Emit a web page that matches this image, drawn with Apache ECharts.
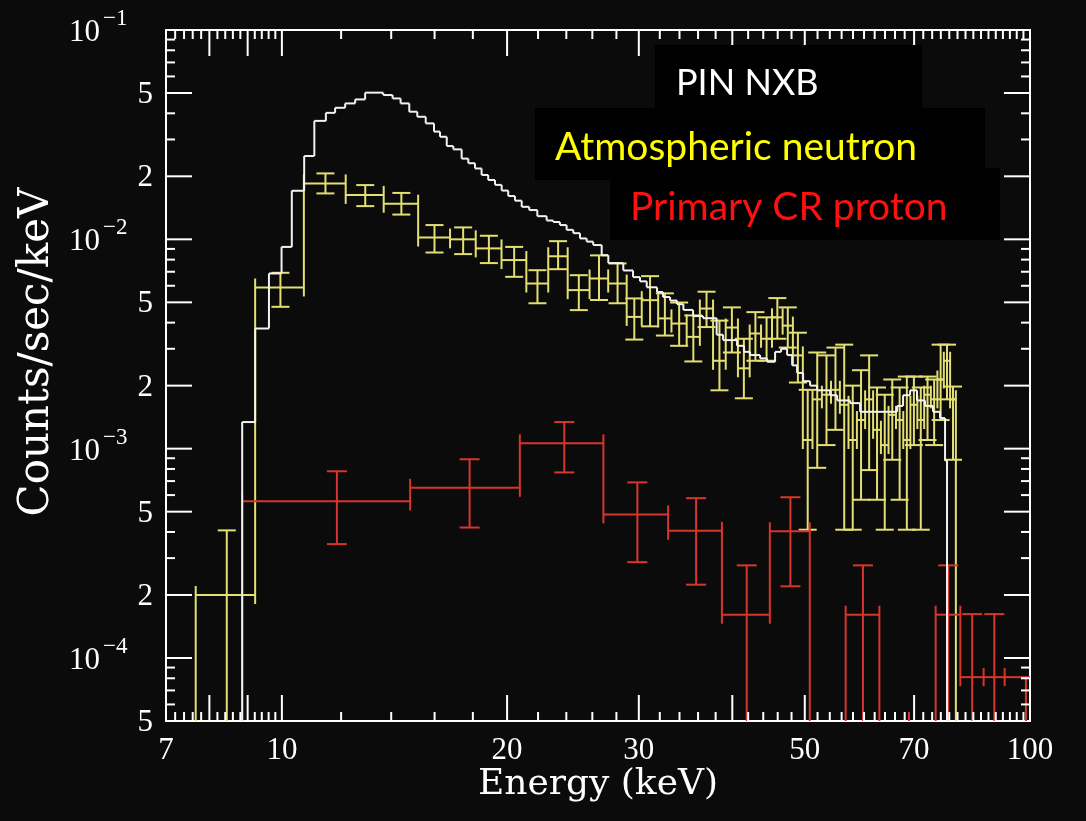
<!DOCTYPE html>
<html>
<head>
<meta charset="utf-8">
<script src="https://cdn.jsdelivr.net/npm/echarts@6.0.0/dist/echarts.min.js"></script>
<style>
html,body{margin:0;padding:0;background:#0b0b0b;}
#chart{width:1086px;height:821px;}
</style>
</head>
<body>
<div id="chart"></div>
<script>
// ---------------- tick / label data ----------------
const xLabelValues = [7, 10, 20, 30, 50, 70, 100];
const xLabels = ['7', '10', '20', '30', '50', '70', '100'];
const xMajorTicks = [8, 9, 10, 20, 30, 40, 50, 70];
const xMinorTicks = [7.2, 7.4, 7.6, 7.8, 8.2, 8.4, 8.6, 8.8, 9.2, 9.4, 9.6, 9.8,
  12, 14, 16, 18, 22, 24, 26, 28, 32, 34, 36, 38, 42, 44, 46, 48,
  52, 54, 56, 58, 60, 62, 64, 66, 68, 72, 74, 76, 78, 80, 82, 84, 86, 88, 90, 92, 94, 96, 98];
const yLabelValues = [0.1, 0.05, 0.02, 0.01, 0.005, 0.002, 0.001, 0.0005, 0.0002, 0.0001, 0.00005];
const yLabelMantissa = ['10', '5', '2', '10', '5', '2', '10', '5', '2', '10', '5'];
const yLabelExponent = ['\u22121', '', '', '\u22122', '', '', '\u22123', '', '', '\u22124', ''];
const yMajorTicks = [0.05, 0.02, 0.01, 0.005, 0.002, 0.001, 0.0005, 0.0002, 0.0001];
const yMinorTicks = [0.00006, 0.00007, 0.00008, 0.00009,
  0.0003, 0.0004, 0.0006, 0.0007, 0.0008, 0.0009,
  0.003, 0.004, 0.006, 0.007, 0.008, 0.009,
  0.03, 0.04, 0.06, 0.07, 0.08, 0.09];

const seriesNames = ['PIN NXB', 'Atmospheric neutron', 'Primary CR proton'];

// ---------------- PIN NXB (white histogram) ----------------
const nxbEdges = [8.85, 9.21, 9.61, 9.99, 10.31, 10.71, 11.05, 11.45, 11.78, 12.15, 12.53, 12.92,
  13.66, 14.06, 14.41, 14.80, 15.17, 15.57, 15.97, 16.27, 16.61, 16.95, 17.39, 17.75, 18.12,
  18.49, 18.87, 19.27, 19.67, 20.07, 20.49, 20.92, 21.41, 21.95, 22.59, 23.05, 23.53, 24.02,
  24.52, 25.03, 25.55, 26.07, 26.76, 27.31, 28.60, 29.47, 30.11, 30.74, 31.73, 32.32, 33.03,
  33.74, 34.41, 35.45, 36.56, 38.12, 38.88, 40.59, 41.48, 42.25, 43.57, 44.52, 45.63, 46.48,
  47.35, 48.09, 48.83, 49.74, 50.82, 51.93, 54.05, 55.23, 57.48, 59.28, 61.70, 64.02, 66.43,
  67.66, 69.14, 70.63, 72.39, 74.19, 75.81, 76.99, 77.46];
const nxbValues = [1.34e-3, 3.75e-3, 6.87e-3, 9.2e-3, 0.01706, 0.025, 0.0368, 0.0402, 0.0425,
  0.0446, 0.0466, 0.0502, 0.0489, 0.0471, 0.0446, 0.0407, 0.0385, 0.0358, 0.0327, 0.0309,
  0.0279, 0.0269, 0.0243, 0.0231, 0.0218, 0.0203, 0.0192, 0.0182, 0.0171, 0.0161, 0.0153,
  0.0143, 0.0138, 0.0129, 0.0123, 0.0121, 0.0117, 0.0111, 0.0107, 0.0101, 0.00975, 0.00939,
  0.0084, 0.0077, 0.0071, 0.0066, 0.0063, 0.0059, 0.0056, 0.0053, 0.0051, 0.0049, 0.0046,
  0.0043, 0.0042, 0.0035, 0.0033, 0.0031, 0.0029, 0.0028, 0.0027, 0.0026, 0.0029, 0.0030,
  0.0028, 0.0025, 0.0023, 0.0021, 0.0020, 0.0019, 0.0018, 0.0017, 0.00165, 0.0015, 0.0015,
  0.0015, 0.0016, 0.0018, 0.0019, 0.0017, 0.0016, 0.0015, 0.0014, 8.8e-4];

// ---------------- Atmospheric neutron (yellow) ----------------
const neutronEdges = [7.67, 9.21, 10.70, 12.17, 13.68, 15.21, 16.78, 18.16, 19.66, 21.22, 22.7,
  24.1, 25.78, 27.3, 28.9, 30.27, 31.84, 33.17, 34.76, 36.2, 37.7, 39.2, 40.7, 42.2, 43.7, 45.2,
  46.7, 48.2, 49.7, 51.2, 52.7, 54.2, 55.7, 57.2, 58.7, 60.2, 61.7, 63.2, 64.7, 66.2, 67.7, 69.2,
  70.7, 72.2, 73.7, 75.2, 76.7, 78.2, 79.6];
const neutronValues = [2.0e-4, 5.89e-3, 0.0185, 0.0163, 0.0148, 0.0102, 0.0100, 0.00905,
  0.00796, 0.00615, 0.0083, 0.00572, 0.0065, 0.00615, 0.00426, 0.00512, 0.00419, 0.00396,
  0.00342, 0.00467, 2.63e-3, 3.79e-3, 2.42e-3, 3.55e-3, 3.35e-3, 4.24e-3, 3.87e-3, 2.79e-3,
  1.1e-3, 1.72e-3, 1.81e-3, 1.91e-3, 1.62e-3, 1.1e-3, 1.37e-3, 1.72e-3, 1.23e-3, 1.04e-3,
  1.45e-3, 1.37e-3, 1.1e-3, 1.62e-3, 1.37e-3, 1.81e-3, 1.72e-3, 2.14e-3, 2.63e-3, 1.72e-3];
const neutronUpper = [4.07e-4, 6.92e-3, 0.02065, 0.01816, 0.01666, 0.0117, 0.0114, 0.0104,
  0.0092, 0.00712, 0.0098, 0.00674, 0.00838, 0.00767, 0.00522, 0.00667, 0.00552, 0.00499,
  0.00433, 0.00562, 4.09e-3, 4.73e-3, 3.35e-3, 4.49e-3, 4.24e-3, 5.24e-3, 4.73e-3, 3.58e-3,
  1.91e-3, 2.88e-3, 2.79e-3, 3.04e-3, 3.14e-3, 2.0e-3, 2.37e-3, 2.79e-3, 1.96e-3, 1.81e-3,
  2.14e-3, 1.96e-3, 2.21e-3, 2.21e-3, 1.96e-3, 2.21e-3, 2.14e-3, 3.14e-3, 3.14e-3, 1.98e-3];
const neutronLower = [0, 4.76e-3, 0.01657, 0.01441, 0.01313, 0.00865, 0.0085, 0.0077, 0.00662,
  0.00495, 0.0072, 0.00459, 0.00513, 0.00495, 0.00332, 0.00384, 0.00347, 0.0031, 0.00261,
  0.00381, 1.9e-3, 2.88e-3, 1.74e-3, 2.63e-3, 2.63e-3, 3.35e-3, 3.04e-3, 2.07e-3, 4.1e-4,
  8.1e-4, 1.04e-3, 1.23e-3, 4.1e-4, 4.1e-4, 5.7e-4, 7.9e-4, 5.7e-4, 4.1e-4, 8.85e-4, 5.7e-4,
  4.1e-4, 1.04e-3, 4.1e-4, 1.1e-3, 1.04e-3, 1.37e-3, 1.72e-3, 8.85e-4];

// ---------------- Primary CR proton (red) ----------------
const protonEdges = [8.85, 14.84, 20.8, 26.9, 32.83, 38.74, 44.9, 50.77, 56.7, 62.9, 68.9, 74.8,
  80.7, 86.7, 92.5, 105];
const protonValues = [5.6e-4, 6.5e-4, 1.06e-3, 4.85e-4, 4.05e-4, 1.61e-4, 4.03e-4, 0, 1.61e-4,
  0, 0, 1.61e-4, 8.1e-5, 8.1e-5, 8.1e-5];
const protonUpper = [7.8e-4, 8.9e-4, 1.34e-3, 6.9e-4, 5.8e-4, 2.77e-4, 5.86e-4, 0, 2.77e-4,
  0, 0, 2.77e-4, 1.62e-4, 1.62e-4, 8.1e-5];
const protonLower = [3.5e-4, 4.2e-4, 7.7e-4, 2.87e-4, 2.24e-4, 0, 2.2e-4, 0, 0, 0, 0, 0, 0, 0, 0];

// ---------------- rendering helpers ----------------
const X_MIN = 7, X_MAX = 100, Y_MIN = 5e-5, Y_MAX = 0.1;

function makeHist(edges, vals, ups, dns, color, capPx, termPx) {
  return function (params, api) {
    const cx = v => api.coord([Math.min(Math.max(v, X_MIN), X_MAX), 0.01])[0];
    const cy = v => api.coord([10, Math.min(Math.max(v, Y_MIN), Y_MAX)])[1];
    const yBot = cy(Y_MIN), yTop = cy(Y_MAX), xRight = cx(X_MAX), xLeft = cx(X_MIN);
    const segs = [];
    const n = vals.length;
    for (let i = 0; i <= n; i++) {
      const e = edges[i];
      if (e > X_MAX) continue;
      const a = i > 0 ? vals[i - 1] : 0, b = i < n ? vals[i] : 0;
      const ya = cy(a > 0 ? a : Y_MIN), yb = cy(b > 0 ? b : Y_MIN);
      let y1 = Math.min(ya, yb) - termPx, y2 = Math.max(ya, yb) + termPx;
      y1 = Math.max(y1, yTop); y2 = Math.min(y2, yBot);
      const x = cx(e);
      segs.push([x, y1, x, y2]);
    }
    for (let i = 0; i < n; i++) {
      const v = vals[i];
      if (!(v > 0)) continue;
      const x1 = cx(edges[i]), x2 = cx(edges[i + 1]), y = cy(v);
      segs.push([x1, y, x2, y]);
      if (ups) {
        const mid = (edges[i] + edges[i + 1]) / 2;
        if (mid > X_MAX) continue;
        const xm = cx(mid);
        const yt = cy(ups[i]);
        const yd = dns[i] > Y_MIN ? cy(dns[i]) : yBot;
        segs.push([xm, yt, xm, yd]);
        const cl = Math.max(xm - capPx, xLeft), cr = Math.min(xm + capPx, xRight);
        if (ups[i] > v) segs.push([cl, yt, cr, yt]);
        if (dns[i] > Y_MIN) segs.push([cl, yd, cr, yd]);
      }
    }
    return {
      type: 'group',
      children: segs.map(s => ({
        type: 'line',
        shape: { x1: s[0], y1: s[1], x2: s[2], y2: s[3] },
        style: { stroke: color, lineWidth: 2 }
      }))
    };
  };
}

const TICK_FONT = '31px "Liberation Serif"';
const EXP_FONT = '23px "Liberation Serif"';
function renderAxes(params, api) {
  const px = v => api.coord([v, 0.01])[0];
  const py = v => api.coord([10, v])[1];
  const L = px(X_MIN), R = px(X_MAX), T = py(Y_MAX), B = py(Y_MIN);
  const MAJ = 26, MIN = 9;
  const ch = [];
  const ln = (x1, y1, x2, y2) => ch.push({ type: 'line', shape: { x1, y1, x2, y2 }, style: { stroke: '#ffffff', lineWidth: 2 } });
  xMajorTicks.forEach(v => { const x = px(v); ln(x, B, x, B - MAJ); ln(x, T, x, T + MAJ); });
  xMinorTicks.forEach(v => { const x = px(v); ln(x, B, x, B - MIN); ln(x, T, x, T + MIN); });
  yMajorTicks.forEach(v => { const y = py(v); ln(L, y, L + MAJ, y); ln(R, y, R - MAJ, y); });
  yMinorTicks.forEach(v => { const y = py(v); ln(L, y, L + MIN, y); ln(R, y, R - MIN, y); });
  xLabelValues.forEach((v, i) => {
    ch.push({ type: 'text', x: px(v), y: B + 30,
      style: { text: xLabels[i], fill: '#ffffff', font: TICK_FONT, textAlign: 'center', textVerticalAlign: 'middle' } });
  });
  yLabelValues.forEach((v, i) => {
    const y = py(v);
    if (yLabelExponent[i]) {
      ch.push({ type: 'text', x: L - 66, y: y + 3,
        style: { text: yLabelMantissa[i], fill: '#ffffff', font: TICK_FONT, textAlign: 'right', textVerticalAlign: 'middle' } });
      ch.push({ type: 'text', x: L - 63, y: y - 11,
        style: { text: yLabelExponent[i], fill: '#ffffff', font: EXP_FONT, textAlign: 'left', textVerticalAlign: 'middle' } });
    } else {
      ch.push({ type: 'text', x: L - 13, y: y + 2,
        style: { text: yLabelMantissa[i], fill: '#ffffff', font: TICK_FONT, textAlign: 'right', textVerticalAlign: 'middle' } });
    }
  });
  return { type: 'group', children: ch };
}

const chart = echarts.init(document.getElementById('chart'), null, { renderer: 'canvas' });
chart.setOption({
  backgroundColor: '#0b0b0b',
  animation: false,
  grid: { left: 166, top: 30, width: 864, height: 691, show: true, borderColor: '#ffffff', borderWidth: 2, backgroundColor: 'transparent' },
  xAxis: {
    type: 'log', logBase: 10, min: X_MIN, max: X_MAX,
    axisLine: { show: false }, axisTick: { show: false }, axisLabel: { show: false }, splitLine: { show: false },
    name: 'Energy (keV)', nameLocation: 'middle', nameGap: 46,
    nameTextStyle: { color: '#ffffff', fontFamily: 'DejaVu Serif', fontSize: 36 }
  },
  yAxis: {
    type: 'log', logBase: 10, min: Y_MIN, max: Y_MAX,
    axisLine: { show: false }, axisTick: { show: false }, axisLabel: { show: false }, splitLine: { show: false }
  },
  graphic: [
    { type: 'text', x: 37, y: 352, rotation: Math.PI / 2, z: 10,
      style: { text: 'Counts/sec/keV', fill: '#ffffff', font: '42px "DejaVu Serif"', textAlign: 'center', textVerticalAlign: 'middle' } },
    { type: 'rect', shape: { x: 655, y: 45, width: 267, height: 64 }, style: { fill: '#000000' }, z: 20 },
    { type: 'rect', shape: { x: 535, y: 108, width: 450, height: 72 }, style: { fill: '#000000' }, z: 20 },
    { type: 'rect', shape: { x: 610, y: 168, width: 390, height: 72 }, style: { fill: '#000000' }, z: 20 },
    { type: 'text', x: 676, y: 83, z: 21,
      style: { text: seriesNames[0], fill: '#ffffff', font: '36px Lato', textAlign: 'left', textVerticalAlign: 'middle' } },
    { type: 'text', x: 555, y: 147, z: 21,
      style: { text: seriesNames[1], fill: '#ffff00', font: '39px Lato', textAlign: 'left', textVerticalAlign: 'middle' } },
    { type: 'text', x: 630, y: 207, z: 21,
      style: { text: seriesNames[2], fill: '#ff1010', font: '39px Lato', textAlign: 'left', textVerticalAlign: 'middle' } }
  ],
  series: [
    { name: 'axes', type: 'custom', coordinateSystem: 'cartesian2d', data: [[10, 0.01]], silent: true, z: 5, renderItem: renderAxes },
    { name: seriesNames[1], type: 'custom', coordinateSystem: 'cartesian2d', data: [[10, 0.01]], silent: true, z: 2,
      renderItem: makeHist(neutronEdges, neutronValues, neutronUpper, neutronLower, '#e3df72', 9, 9) },
    { name: seriesNames[2], type: 'custom', coordinateSystem: 'cartesian2d', data: [[10, 0.01]], silent: true, z: 3,
      renderItem: makeHist(protonEdges, protonValues, protonUpper, protonLower, '#d8352c', 10, 9) },
    { name: seriesNames[0], type: 'custom', coordinateSystem: 'cartesian2d', data: [[10, 0.01]], silent: true, z: 4,
      renderItem: makeHist(nxbEdges, nxbValues, null, null, '#f2f2f2', 0, 0) }
  ]
});
</script>
</body>
</html>
